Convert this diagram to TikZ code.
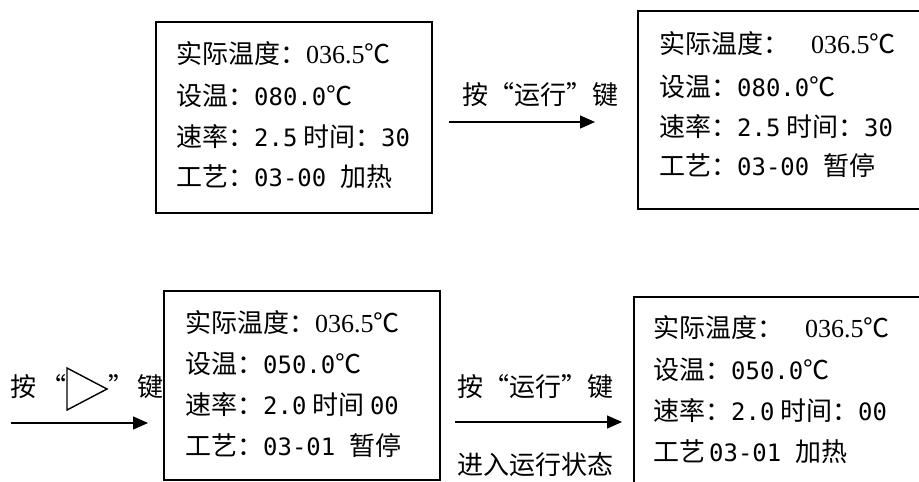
\documentclass[tikz,border=0pt]{standalone}
\usepackage{fontspec}
\setmainfont{Liberation Serif}
\newfontfamily\cjk{Noto Sans CJK SC}
\newfontfamily\digfont{DejaVu Sans Mono}[Scale=0.92]
\usetikzlibrary{arrows.meta}
\newcommand\dg[1]{{\digfont #1}}
\newcommand\tm[1]{{\rmfamily #1}}
\tikzset{
  box/.style={draw, line width=1.6pt, inner sep=0pt, anchor=north west},
  ln/.style={anchor=west, inner sep=0pt, font=\cjk\fontsize{26}{26}\selectfont, text height=22.9pt, text depth=3.1pt},
  arr/.style={line width=1.4pt, -{Triangle[length=15pt,width=13pt]}},
  tri/.style={line width=1.4pt, line join=miter}
}
\begin{document}
\begin{tikzpicture}[x=1pt,y=-1pt]
\clip (0,0) rectangle (919,482);
\useasboundingbox (0,0) rectangle (919,482);
\fill[white] (0,0) rectangle (919,482);

% boxes
\node[box, minimum width=276pt, minimum height=191pt] (b1) at (155,21) {};
\node[box, minimum width=293pt, minimum height=198pt] (b2) at (637,10) {};
\node[box, minimum width=276pt, minimum height=189pt] (b3) at (163,290) {};
\node[box, minimum width=300pt, minimum height=210pt] (b4) at (633,296) {};

% box 1
\node[ln] (b1a) at (176,54)  {实际温度：\tm{036.5}℃};
\node[ln] (b1b) at (176,96)  {设温：\dg{080.0}℃};
\node[ln] (b1c) at (176,137) {速率：\dg{2.5} 时间：\dg{30}};
\node[ln] (b1d) at (176,177) {工艺：\dg{03-00 }加热};

% box 2
\node[ln] (b2a) at (659,44)  {实际温度：\hspace{22pt}\tm{036.5}℃};
\node[ln] (b2b) at (659,87)  {设温：\dg{080.0}℃};
\node[ln] (b2c) at (659,127) {速率：\dg{2.5} 时间：\dg{30}};
\node[ln] (b2d) at (659,166) {工艺：\dg{03-00 }暂停};

% box 3
\node[ln] (b3a) at (185,323) {实际温度：\tm{036.5}℃};
\node[ln] (b3b) at (185,364) {设温：\dg{050.0}℃};
\node[ln] (b3c) at (185,405) {速率：\dg{2.0} 时间 \dg{00}};
\node[ln] (b3d) at (185,446) {工艺：\dg{03-01 }暂停};

% box 4
\node[ln] (b4a) at (653,328) {实际温度：\hspace{22pt}\tm{036.5}℃};
\node[ln] (b4b) at (653,370) {设温：\dg{050.0}℃};
\node[ln] (b4c) at (653,411) {速率：\dg{2.0} 时间：\dg{00}};
\node[ln] (b4d) at (653,452) {工艺\hspace{4pt}\dg{03-01 }加热};

% arrow 1
\node[ln] (l1) at (462,95) {按“运行”键};
\coordinate (a1s) at (449,122);
\coordinate (a1e) at (595,122);
\draw[arr] (a1s) -- (a1e);

% arrow 2 (left)
\node[ln] (l2a) at (10,387) {按};
\node[ln, anchor=east] (l2q) at (67,387) {“};
\node[ln] (l2r) at (108,387) {”};
\node[ln, anchor=east] (l2b) at (164,387) {键};
\coordinate (t1) at (67,368);
\coordinate (t2) at (107,389);
\coordinate (t3) at (67,410);
\draw[tri] (t1) -- (t2) -- (t3) -- cycle;
\coordinate (a2s) at (11,423);
\coordinate (a2e) at (148,423);
\draw[arr] (a2s) -- (a2e);

% arrow 3
\node[ln] (l3) at (457,387) {按“运行”键};
\node[ln] (l4) at (457,465) {进入运行状态};
\coordinate (a3s) at (455,422);
\coordinate (a3e) at (622,422);
\draw[arr] (a3s) -- (a3e);
\end{tikzpicture}
\end{document}
